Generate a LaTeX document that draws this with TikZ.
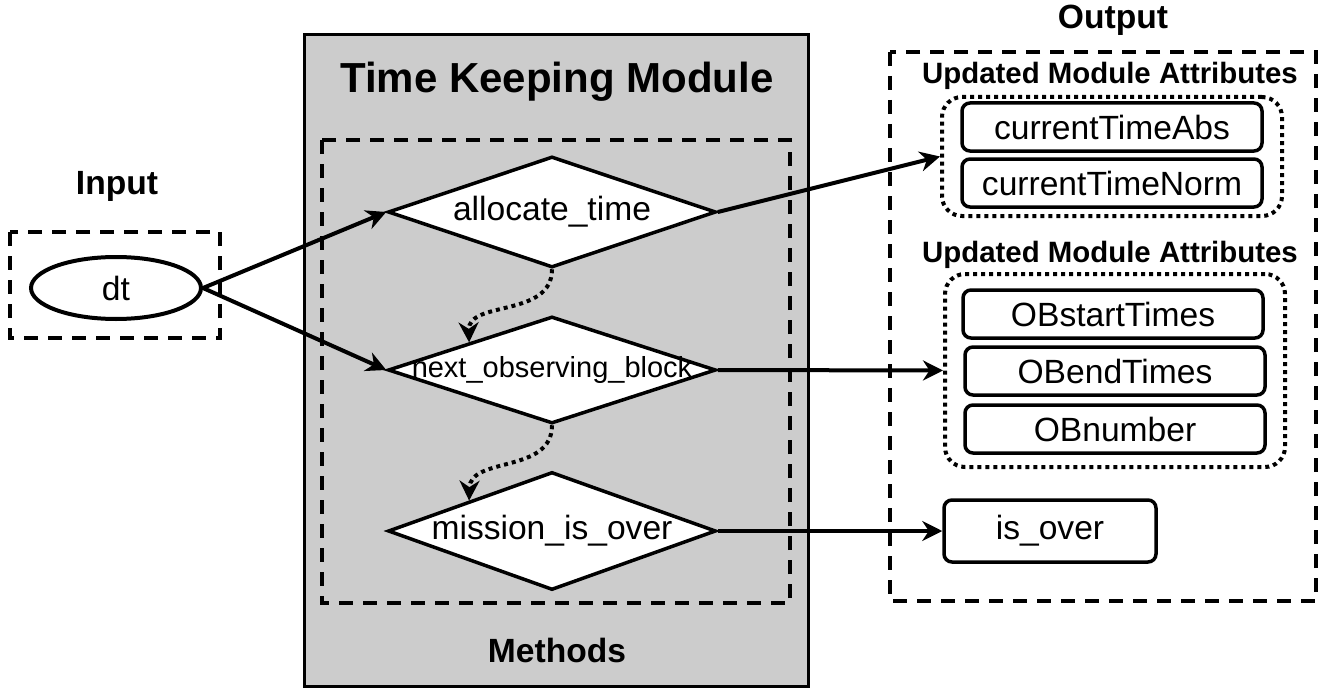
\documentclass[tikz,border=0pt]{standalone}
\usepackage{fontspec}
\setmainfont{Liberation Sans}
\usepackage{tikz}
\usetikzlibrary{shapes.geometric,arrows.meta}

\begin{document}
\begin{tikzpicture}[x=0.5pt,y=-0.5pt]
		\tikzstyle{dashedbox}=[draw=black,line width=2pt,dash pattern=on 7pt off 5pt]
		\tikzstyle{dottedbox}=[draw=black,line width=2pt,dash pattern=on 2pt off 2pt,rounded corners=10pt,inner sep=0pt]
		\tikzstyle{module}=[draw=black,fill=black!20,line width=1.5pt]
		\tikzstyle{in-node}=[draw=black,fill=white,line width=2pt,ellipse,minimum width=85pt,minimum height=31pt,inner sep=0pt,font=\fontsize{16.8}{20}\selectfont]
		\tikzstyle{method}=[draw=black,fill=white,line width=1.75pt,diamond,minimum width=164pt,inner sep=0pt,font=\fontsize{16.8}{20}\selectfont]
		\tikzstyle{attr}=[draw=black,fill=white,line width=1.75pt,rounded corners=4pt,minimum width=150pt,minimum height=24pt,inner sep=0pt,font=\fontsize{16.8}{20}\selectfont]
		\tikzstyle{heading}=[font=\bfseries\fontsize{16.8}{20}\selectfont]
		\tikzstyle{subheading}=[font=\bfseries\fontsize{14.7}{18}\selectfont]
		\tikzstyle{mapsto}=[-{Stealth[length=10pt,width=10pt]},line width=2pt]
		\tikzstyle{flow}=[-{Stealth[length=10pt,width=10pt]},line width=2pt,dash pattern=on 2pt off 2pt]
		\useasboundingbox (0,0) rectangle (1322,690);
		% input
		\node [heading] at (117,186) (inlabel) {Input};
		\draw [dashedbox] (10,232) rectangle (220,338);
		\node [in-node] at (116,288) (dt) {dt};
		% module
		\draw [module] (304,35) rectangle (808,686);
		\node [font=\bfseries\fontsize{21}{25}\selectfont] at (557,82) (title) {Time Keeping Module};
		\draw [dashedbox] (322,140) rectangle (790,603);
		\node [heading] at (557,650) (methods) {Methods};
		\node [method,minimum height=55.5pt] at (552,212) (d1) {\makebox[0pt]{allocate\_time}};
		\node [method,minimum height=53.5pt,font=\fontsize{14.5}{17}\selectfont] at (552,370) (d2) {\makebox[0pt]{next\_observing\_block}};
		\node [method,minimum height=59pt] at (552,531) (d3) {\makebox[0pt]{mission\_is\_over}};
		% output
		\node [heading] at (1113,20) (outlabel) {Output};
		\draw [dashedbox] (890,52) rectangle (1316,601);
		\node [subheading] at (1110,76) (attr1) {Updated Module Attributes};
		\node [dottedbox,minimum width=170pt,minimum height=59.5pt] at (1112,156.5) (grp1) {};
		\node [attr] at (1112,127) (cta) {currentTimeAbs};
		\node [attr] at (1112,183) (ctn) {currentTimeNorm};
		\node [subheading] at (1110,255) (attr2) {Updated Module Attributes};
		\node [dottedbox,minimum width=170pt,minimum height=96.5pt] at (1115,370.5) (grp2) {};
		\node [attr] at (1113,314) (obs) {OBstartTimes};
		\node [attr] at (1115,371) (obe) {OBendTimes};
		\node [attr] at (1115,429) (obn) {OBnumber};
		\node [attr,minimum width=106pt,minimum height=31pt] at (1050,531) (isover) {is\_over};
		% mapsto
		\draw [mapsto] (dt.east) -- (d1.west);
		\draw [mapsto] (dt.east) -- (d2.west);
		\draw [mapsto] (d1.east) -- (grp1.west);
		\draw [mapsto] (d2.east) -- (grp2.west);
		\draw [mapsto] (d3.east) -- (isover.west);
		\draw [flow] (d1.south) .. controls (552,318) and (468,300) .. (d2.north west);
		\draw [flow] (d2.south) .. controls (552,474) and (470,456) .. (d3.north west);
	\end{tikzpicture}
\end{document}
